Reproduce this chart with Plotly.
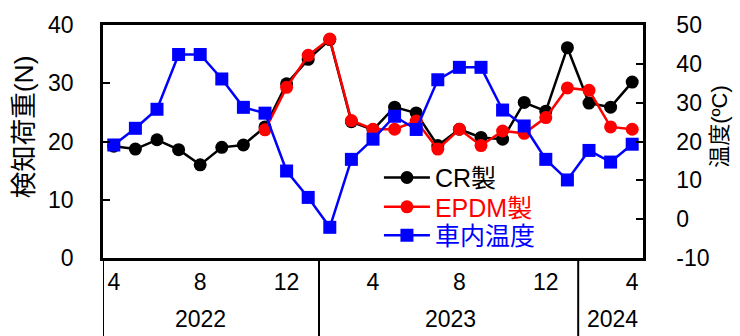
import plotly.graph_objects as go

months = list(range(25))  # 2022-04 .. 2024-04, index
tick_vals = [0, 4, 8, 12, 16, 20, 24]
tick_text = ["4", "8", "12", "4", "8", "12", "4"]
y2_vals = [-10, 0, 10, 20, 30, 40, 50]
y2_text = ["-10", "0", "10", "20", "30", "40", "50"]
years = ["2022", "2023", "2024"]
year_pos = [4.0, 15.6, 23.1]
year_sep = [9.5, 21.5]

cr = [19.2, 18.7, 20.3, 18.6, 16.0, 19.0, 19.4, 22.5, 29.9, 34.1, 37.5,
      23.4, 22.0, 25.9, 24.9, 19.3, 22.1, 20.7, 20.4, 26.7, 25.2, 36.1,
      26.6, 25.9, 30.2]
epdm_x = list(range(7, 25))
epdm = [22.0, 29.3, 34.8, 37.6, 23.6, 22.1, 22.1, 23.5, 18.7, 22.1, 19.3,
        21.8, 21.4, 24.1, 29.2, 28.8, 22.5, 22.1]
temp = [19.1, 23.4, 28.3, 42.4, 42.4, 36.1, 28.8, 27.3, 12.4, 5.6, -2.1,
        15.4, 20.6, 26.5, 23.1, 35.9, 39.1, 39.1, 28.1, 24.0, 15.4, 10.1,
        17.7, 14.7, 19.3]

FONT = "Liberation Sans, Arial, Noto Sans CJK JP"

fig = go.Figure()
fig.add_trace(go.Scatter(x=months, y=cr, name="CR製", mode="lines+markers",
                         legend="legend",
                         line=dict(color="black", width=2.5),
                         marker=dict(symbol="circle", size=13, color="black")))
fig.add_trace(go.Scatter(x=epdm_x, y=epdm, name="EPDM製", mode="lines+markers",
                         legend="legend2",
                         line=dict(color="#ff0000", width=2.5),
                         marker=dict(symbol="circle", size=13, color="#ff0000")))
fig.add_trace(go.Scatter(x=months, y=temp, name="車内温度", mode="lines+markers",
                         yaxis="y2", legend="legend3",
                         line=dict(color="#0000ff", width=2.5),
                         marker=dict(symbol="square", size=13, color="#0000ff")))

shapes = []
for xs in [-0.5] + year_sep:
    shapes.append(dict(type="line", xref="x", yref="paper", x0=xs, x1=xs,
                       y0=0, y1=-0.4, line=dict(color="black", width=2)))

annotations = []
for yl, xp in zip(years, year_pos):
    annotations.append(dict(text=yl, x=xp, y=-0.26, xref="x", yref="paper",
                            showarrow=False, yanchor="middle",
                            font=dict(size=23, color="black", family=FONT)))
# axis titles
annotations.append(dict(text="検知荷重(N)", x=(23.5 - 103) / 540, y=(258 - 124) / 238,
                        xref="paper", yref="paper", showarrow=False,
                        xanchor="center", yanchor="middle", textangle=-90,
                        font=dict(size=26.5, color="black", family=FONT)))
annotations.append(dict(text="温度(ºC)", x=(720 - 103) / 540, y=(258 - 124) / 238,
                        xref="paper", yref="paper", showarrow=False,
                        xanchor="center", yanchor="middle", textangle=-90,
                        font=dict(size=22, color="black", family=FONT)))


def leg(y, color):
    return dict(x=0.511, y=y, xanchor="left", yanchor="middle",
                bgcolor="rgba(0,0,0,0)", itemwidth=46,
                font=dict(size=25, family=FONT, color=color))


fig.update_layout(
    width=740, height=336,
    margin=dict(l=103, r=97, t=20, b=78),
    paper_bgcolor="white", plot_bgcolor="white",
    font=dict(family=FONT, size=23, color="black"),
    showlegend=True,
    legend=leg((258 - 176) / 238, "black"),
    legend2=leg((258 - 206) / 238, "#ff0000"),
    legend3=leg((258 - 235) / 238, "#0000ff"),
    xaxis=dict(range=[-0.5, 24.5], tickvals=tick_vals, ticktext=tick_text,
               showgrid=False, zeroline=False, showline=True, linecolor="black",
               linewidth=2.5, mirror=True, ticks="", ticklabelstandoff=2,
               tickfont=dict(size=23)),
    yaxis=dict(range=[0, 40], dtick=10, showgrid=False, zeroline=False,
               showline=True, linecolor="black", linewidth=2.5,
               ticks="inside", ticklen=7, tickwidth=2, tickcolor="black",
               ticklabelstandoff=22, tickfont=dict(size=23)),
    yaxis2=dict(range=[-10, 50], tickvals=y2_vals, ticktext=y2_text,
                overlaying="y", side="right",
                showgrid=False, zeroline=False, showline=True, linecolor="black",
                linewidth=2.5, ticks="inside", ticklen=7, tickwidth=2,
                tickcolor="black", ticklabelstandoff=26, tickfont=dict(size=23)),
    shapes=shapes, annotations=annotations,
)

fig.write_html("out.html", config={"displayModeBar": False},
               post_script="document.body.style.margin='0';")
